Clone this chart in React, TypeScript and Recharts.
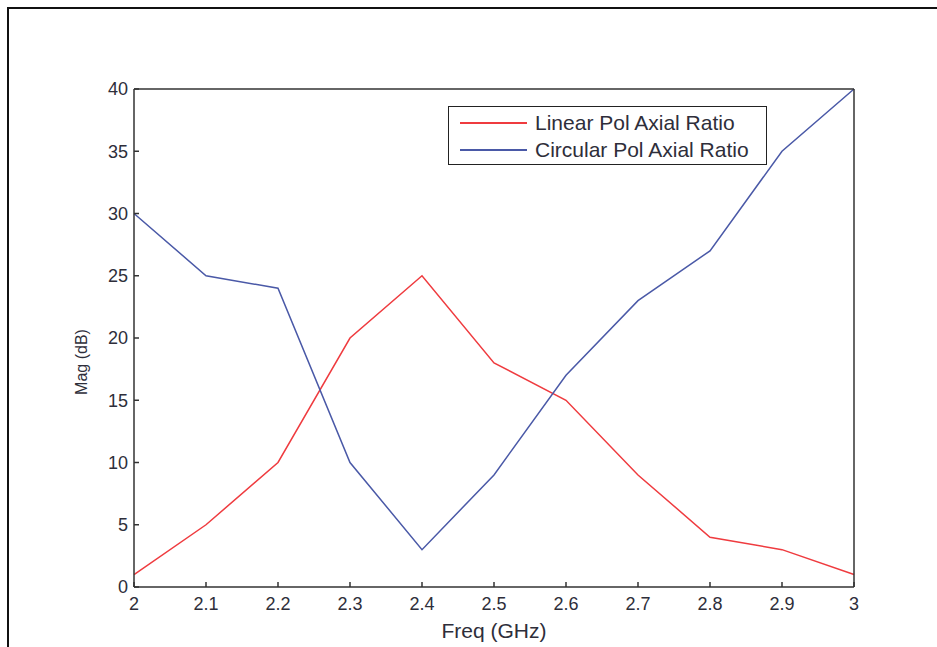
import React from 'react';
import { LineChart, Line, XAxis, YAxis, Legend, Label } from 'recharts';

const freq = [2, 2.1, 2.2, 2.3, 2.4, 2.5, 2.6, 2.7, 2.8, 2.9, 3];
const linearAR = [1, 5, 10, 20, 25, 18, 15, 9, 4, 3, 1];
const circularAR = [30, 25, 24, 10, 3, 9, 17, 23, 27, 35, 40];
const yTicks = [0, 5, 10, 15, 20, 25, 30, 35, 40];

const data = freq.map((f, i) => ({ freq: f, linear: linearAR[i], circular: circularAR[i] }));

const FONT = '"Liberation Sans", Arial, sans-serif';
const AXIS = '#333';
const TXT = '#2e2e3a';
const RED = '#ef3b3f';
const BLUE = '#4a59a7';

const legendRows = [
  { c: RED, t: 'Linear Pol Axial Ratio' },
  { c: BLUE, t: 'Circular Pol Axial Ratio' },
];

const LegendBox = () => (
  <div
    style={{
      width: 319,
      height: 59,
      border: '1.5px solid #222',
      background: '#fff',
      fontFamily: FONT,
      fontSize: 21,
      color: TXT,
      boxSizing: 'border-box',
      paddingTop: 2,
    }}
  >
    {legendRows.map((r) => (
      <div key={r.t} style={{ display: 'flex', alignItems: 'center', height: 27 }}>
        <div style={{ width: 67, height: 2, background: r.c, marginLeft: 11, marginRight: 8 }} />
        <span style={{ whiteSpace: 'nowrap' }}>{r.t}</span>
      </div>
    ))}
  </div>
);

// y-axis title sits a little below the plot's vertical centre in the original
const YTitle = (props: any) => {
  const vb = props.viewBox || {};
  const x = vb.x + 7;
  const y = vb.y + vb.height / 2 + 24;
  return (
    <text
      x={x}
      y={y}
      transform={`rotate(-90, ${x}, ${y})`}
      textAnchor="middle"
      dominantBaseline="central"
      style={{ fontSize: 16, fill: TXT, fontFamily: FONT }}
    >
      Mag (dB)
    </text>
  );
};

export default function App() {
  const tickStyle = { fontSize: 18, fill: TXT, fontFamily: FONT };
  return (
    <div style={{ position: 'absolute', left: 0, top: 0, width: 937, height: 647, background: '#fff' }}>
      <div
        style={{
          position: 'absolute',
          left: 7,
          top: 7,
          width: 940,
          height: 650,
          borderLeft: '2px solid #111',
          borderTop: '2px solid #111',
        }}
      />
      <LineChart
        width={937}
        height={647}
        data={data}
        margin={{ top: 89, right: 83, left: 74, bottom: 10 }}
        style={{ position: 'absolute', left: 0, top: 0 }}
      >
        <XAxis
          xAxisId="bottom"
          dataKey="freq"
          type="number"
          domain={[2, 3]}
          ticks={freq}
          height={50}
          tickSize={-5}
          tickMargin={15}
          stroke={AXIS}
          strokeWidth={1.5}
          tickLine={{ stroke: AXIS, strokeWidth: 1.5 }}
          tick={tickStyle}
          tickFormatter={(v: number) => String(v)}
        >
          <Label value="Freq (GHz)" position="insideBottom" offset={-1} style={{ ...tickStyle, fontSize: 21 }} />
        </XAxis>
        <XAxis
          xAxisId="top"
          orientation="top"
          dataKey="freq"
          type="number"
          domain={[2, 3]}
          ticks={freq}
          height={1}
          mirror
          tickSize={5}
          stroke={AXIS}
          strokeWidth={1.5}
          tickLine={{ stroke: AXIS, strokeWidth: 1.5 }}
          tick={false}
        />
        <YAxis
          yAxisId="left"
          domain={[0, 40]}
          ticks={yTicks}
          width={60}
          tickSize={-5}
          tickMargin={11}
          stroke={AXIS}
          strokeWidth={1.5}
          tickLine={{ stroke: AXIS, strokeWidth: 1.5 }}
          tick={tickStyle}
        >
          <Label content={YTitle} />
        </YAxis>
        <YAxis
          yAxisId="right"
          orientation="right"
          domain={[0, 40]}
          ticks={yTicks}
          width={1}
          mirror
          tickSize={5}
          stroke={AXIS}
          strokeWidth={1.5}
          tickLine={{ stroke: AXIS, strokeWidth: 1.5 }}
          tick={false}
        />
        <Legend
          layout="vertical"
          align="center"
          verticalAlign="middle"
          wrapperStyle={{ left: 448, top: 106, width: 320 }}
          content={() => <LegendBox />}
        />
        <Line
          xAxisId="bottom"
          yAxisId="left"
          dataKey="linear"
          stroke={RED}
          strokeWidth={1.5}
          dot={false}
          type="linear"
          isAnimationActive={false}
        />
        <Line
          xAxisId="bottom"
          yAxisId="left"
          dataKey="circular"
          stroke={BLUE}
          strokeWidth={1.5}
          dot={false}
          type="linear"
          isAnimationActive={false}
        />
      </LineChart>
    </div>
  );
}
